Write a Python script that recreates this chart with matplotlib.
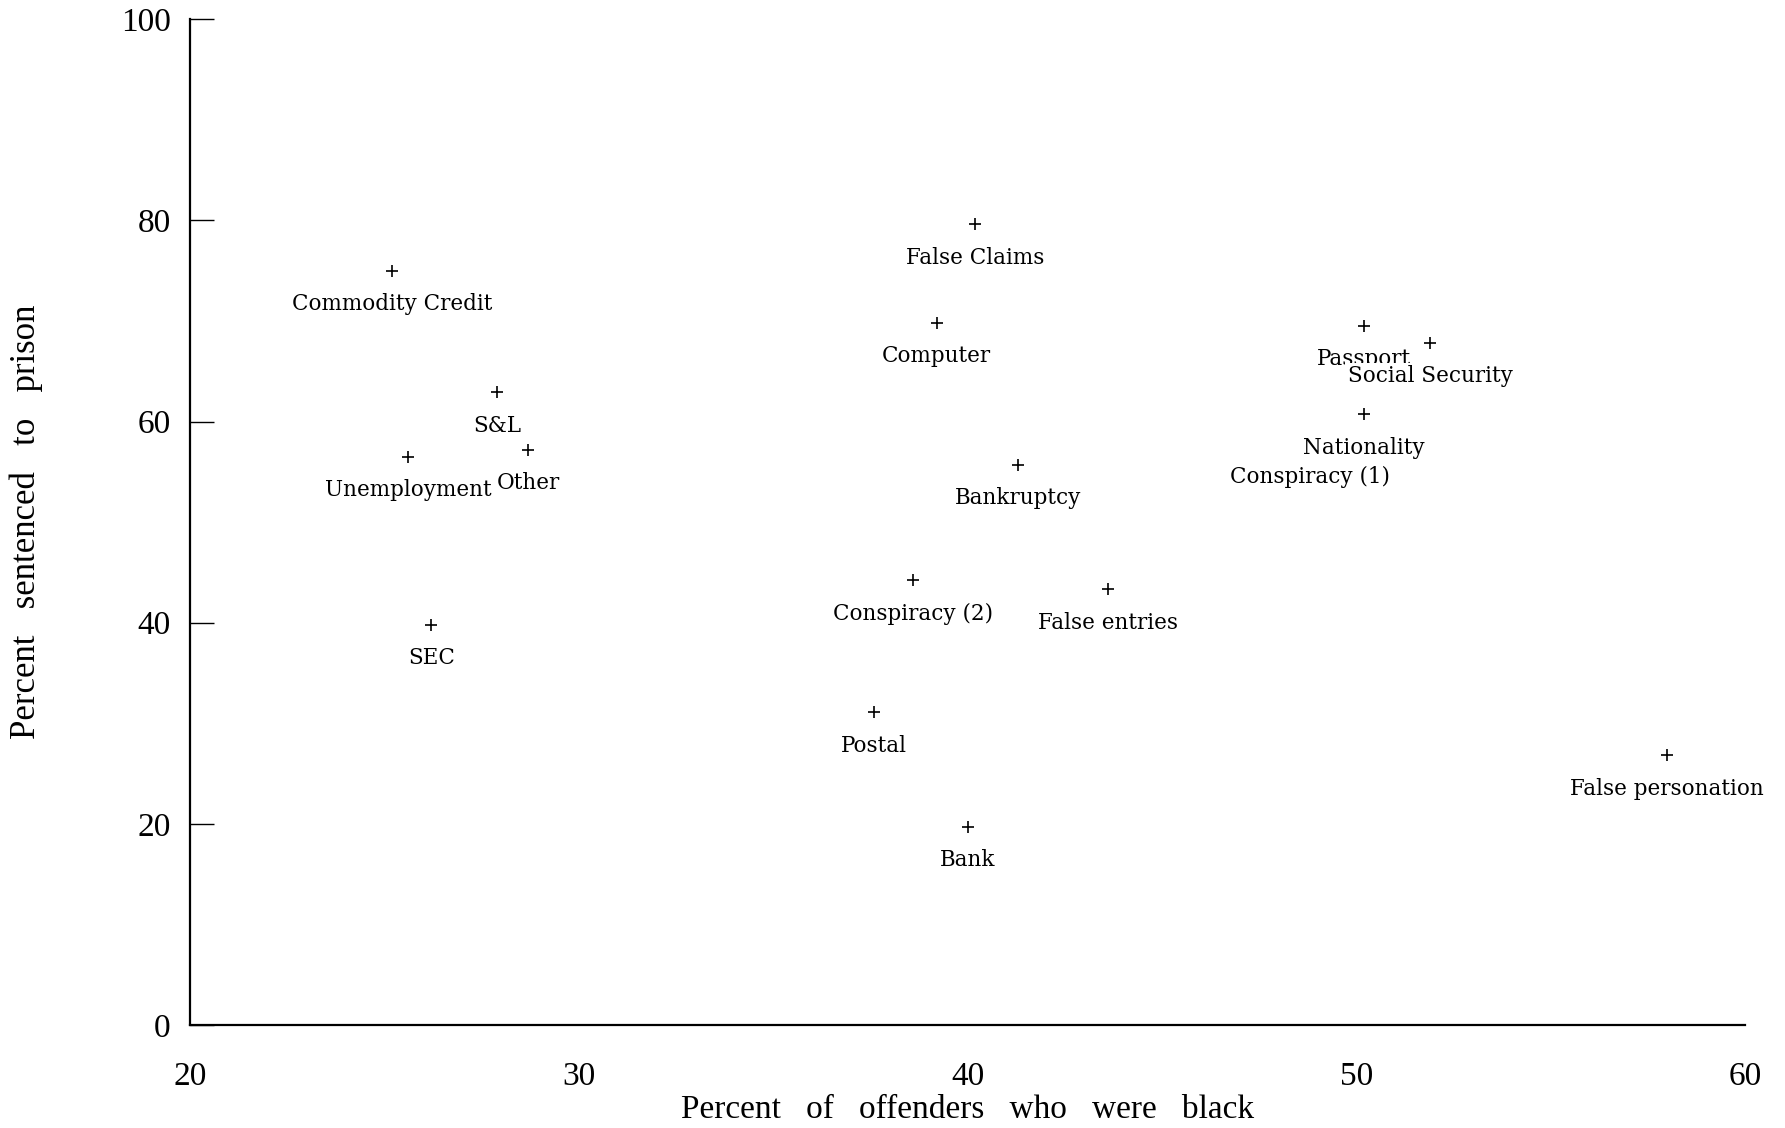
import matplotlib
matplotlib.use("Agg")
import matplotlib.pyplot as plt

offense = ["False Claims", "Commodity Credit", "Computer", "Passport", "Social Security",
           "S&L", "Nationality", "Unemployment", "Other", "Bankruptcy", "Conspiracy (1)",
           "Conspiracy (2)", "False entries", "SEC", "Postal", "False personation", "Bank"]
pct_black = [40.2, 25.2, 39.2, 50.2, 51.9, 27.9, 50.2, 25.6, 28.7, 41.3, 48.8,
             38.6, 43.6, 26.2, 37.6, 58.0, 40.0]
pct_prison = [79.6, 75.0, 69.8, 69.5, 67.8, 62.9, 60.7, 56.5, 57.2, 55.7, 57.8,
              44.2, 43.3, 39.8, 31.1, 26.8, 19.7]

x_ticks = [20, 30, 40, 50, 60]
y_ticks = [0, 20, 40, 60, 80, 100]

fig = plt.figure(figsize=(17.85, 11.28), dpi=100)
ax = fig.add_axes([0.1066, 0.0913, 0.8710, 0.8917])

ax.plot(pct_black, pct_prison, linestyle="none", marker="+", markersize=9,
        markeredgewidth=1.2, color="black", zorder=2)
for name, xv, yv in zip(offense, pct_black, pct_prison):
    ax.annotate(name, (xv, yv), xytext=(0, -24), textcoords="offset points",
                ha="center", va="center", fontsize=15.5, family="DejaVu Serif",
                color="black", zorder=3,
                bbox=dict(boxstyle="square,pad=0.12", facecolor="white",
                          edgecolor="none"))

ax.set_xlim(20, 60)
ax.set_ylim(0, 100)
ax.spines["top"].set_visible(False)
ax.spines["right"].set_visible(False)
ax.spines["left"].set_linewidth(1.6)
ax.spines["bottom"].set_linewidth(1.6)

ax.set_xticks(x_ticks)
ax.set_yticks(y_ticks)
ax.tick_params(axis="x", length=0, pad=26, labelsize=24)
ax.tick_params(axis="y", direction="in", length=17, width=1.0, pad=14, labelsize=24)
for lab in ax.get_xticklabels() + ax.get_yticklabels():
    lab.set_family("Liberation Serif")

ax.set_xlabel("Percent   of   offenders   who   were   black", family="Liberation Serif",
              fontsize=24, labelpad=2)
ax.set_ylabel("Percent   sentenced   to   prison", family="Liberation Serif",
              fontsize=25, labelpad=56)

fig.savefig("out.png", dpi=100, facecolor="white")
